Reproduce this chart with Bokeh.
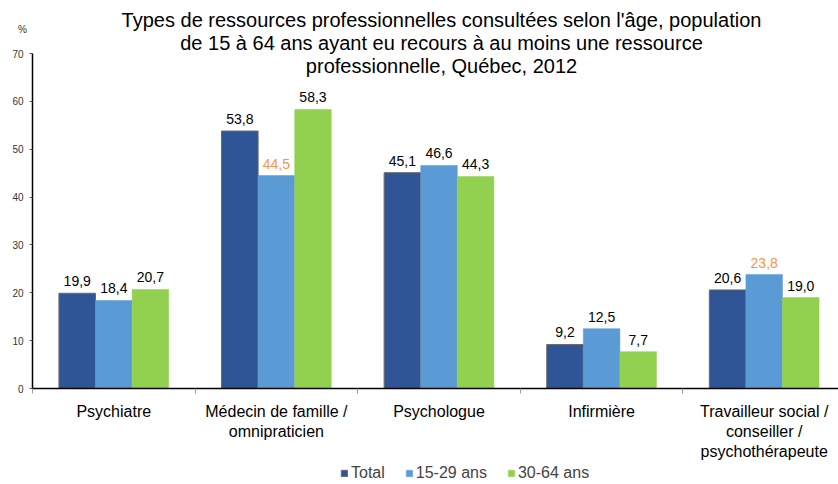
from bokeh.plotting import figure
from bokeh.models import (Range1d, FixedTicker, Label, Legend, LegendItem, ColumnDataSource,
                          LinearAxis)
from bokeh.core.properties import value
from bokeh.embed import file_html
from bokeh.resources import INLINE

# ---- data ----
categories = [
    "Psychiatre",
    "Médecin de famille /\nomnipraticien",
    "Psychologue",
    "Infirmière",
    "Travailleur social /\nconseiller /\npsychothérapeute",
]
series_names = ["Total", "15-29 ans", "30-64 ans"]
total = [19.9, 53.8, 45.1, 9.2, 20.6]
age_15_29 = [18.4, 44.5, 46.6, 12.5, 23.8]
age_30_64 = [20.7, 58.3, 44.3, 7.7, 19.0]
# values flagged in orange in the original
flagged_15_29 = [False, True, False, False, True]
y_ticks = [0, 10, 20, 30, 40, 50, 60, 70]
y_unit = "%"
title_lines = [
    "Types de ressources professionnelles consultées selon l'âge, population",
    "de 15 à 64 ans ayant eu recours à au moins une ressource",
    "professionnelle, Québec, 2012",
]

# ---- layout / style ----
FONT = "Liberation Sans"
colors = ["#2F5597", "#5B9BD5", "#92D050"]
FLAG = "#F79646"
W, H = 838, 484
AX_X = 32          # pixel column of the y axis
AX_Y = 388         # pixel row of the x axis (value 0)
TOP70 = 53         # pixel row of value 70
CAT_PX = 162.6     # width of one category in pixels
Y_MAX = 70
ppu = (AX_Y - TOP70) / Y_MAX
BAR_W = 0.225
LABEL_GAP_PX = 12
x_end = (W - AX_X) / CAT_PX


def px_x(px):
    return (px - AX_X) / CAT_PX


def px_y(py):
    return (AX_Y - py) / ppu


# The frame covers the whole canvas; axes are pinned at x=0 / y=0 so that
# titles, labels and legend outside the plotting area are not clipped.
p = figure(frame_width=W, frame_height=H, output_backend="svg", toolbar_location=None,
           x_range=Range1d(px_x(0), px_x(W)), y_range=Range1d(px_y(H), px_y(0)),
           x_axis_location=None, y_axis_location=None,
           min_border=0, min_border_left=0, min_border_right=0,
           min_border_top=0, min_border_bottom=0)
p.outline_line_color = None
p.grid.visible = False
p.background_fill_color = "white"
p.border_fill_color = "white"

series = [total, age_15_29, age_30_64]
renderers = []
for i, vals in enumerate(series):
    xs = [c + 0.5 + (i - 1) * BAR_W for c in range(len(vals))]
    lbl = [f"{v:.1f}".replace(".", ",") for v in vals]
    ly = [v + LABEL_GAP_PX / ppu for v in vals]
    if i == 1:
        tcol = [FLAG if f else "#000000" for f in flagged_15_29]
    else:
        tcol = ["#000000"] * len(vals)
    src = ColumnDataSource(dict(x=xs, top=vals, ly=ly, lbl=lbl, tcol=tcol))
    r = p.vbar(x="x", top="top", width=BAR_W, source=src, fill_color=colors[i],
               line_color=colors[i] if i else "#6b6b6b", line_width=1 if i == 0 else 0.5)
    renderers.append(r)
    p.text(x="x", y="ly", text="lbl", source=src, text_color="tcol",
           text_align="center", text_baseline="alphabetic",
           text_font=value(FONT), text_font_size="14px")

# y axis
ya = LinearAxis(fixed_location=0, bounds=(0, Y_MAX), ticker=FixedTicker(ticks=y_ticks))
ya.major_tick_out = 3
ya.major_tick_in = 0
ya.major_tick_line_color = "#555555"
ya.minor_tick_out = 0
ya.minor_tick_in = 0
ya.axis_line_color = "#000000"
ya.axis_line_width = 1.5
ya.major_label_text_font = FONT
ya.major_label_text_font_size = "10px"
ya.major_label_text_color = "#333333"
ya.major_label_standoff = 6
p.add_layout(ya, "left")

# x axis: labels at category centres, tick marks at boundaries
centres = [c + 0.5 for c in range(len(categories))]
xa = LinearAxis(fixed_location=0, bounds=(0, x_end),
                ticker=FixedTicker(ticks=centres, minor_ticks=list(range(len(categories) + 1))))
xa.major_label_overrides = {c: lab for c, lab in zip(centres, categories)}
xa.major_tick_out = 0
xa.major_tick_in = 0
xa.minor_tick_out = 5
xa.minor_tick_in = 0
xa.minor_tick_line_color = "#999999"
xa.axis_line_color = "#000000"
xa.axis_line_width = 1.5
xa.major_label_text_font = FONT
xa.major_label_text_font_size = "16px"
xa.major_label_text_color = "#000000"
xa.major_label_standoff = 9
p.add_layout(xa, "below")

# title (three centred lines)
TITLE_CX = 441
for k, line in enumerate(title_lines):
    p.add_layout(Label(x=px_x(TITLE_CX), y=px_y(19 + 23 * k), text=line,
                       text_align="center", text_baseline="alphabetic", text_font=FONT,
                       text_font_size="20px", text_color="#000000"))

# unit label
p.add_layout(Label(x=px_x(22), y=px_y(29), text=y_unit, text_align="center",
                   text_baseline="alphabetic", text_font=FONT, text_font_size="10px",
                   text_color="#333333"))

legend = Legend(items=[LegendItem(label=n, renderers=[r]) for n, r in zip(series_names, renderers)],
                orientation="horizontal", location=(340, 2),
                label_text_font=FONT, label_text_font_size="16px", label_height=16,
                glyph_width=8, glyph_height=8, label_standoff=3, spacing=20,
                padding=0, margin=0, border_line_color=None, background_fill_alpha=0)
p.add_layout(legend)

open("out.html", "w").write(file_html(p, INLINE))
